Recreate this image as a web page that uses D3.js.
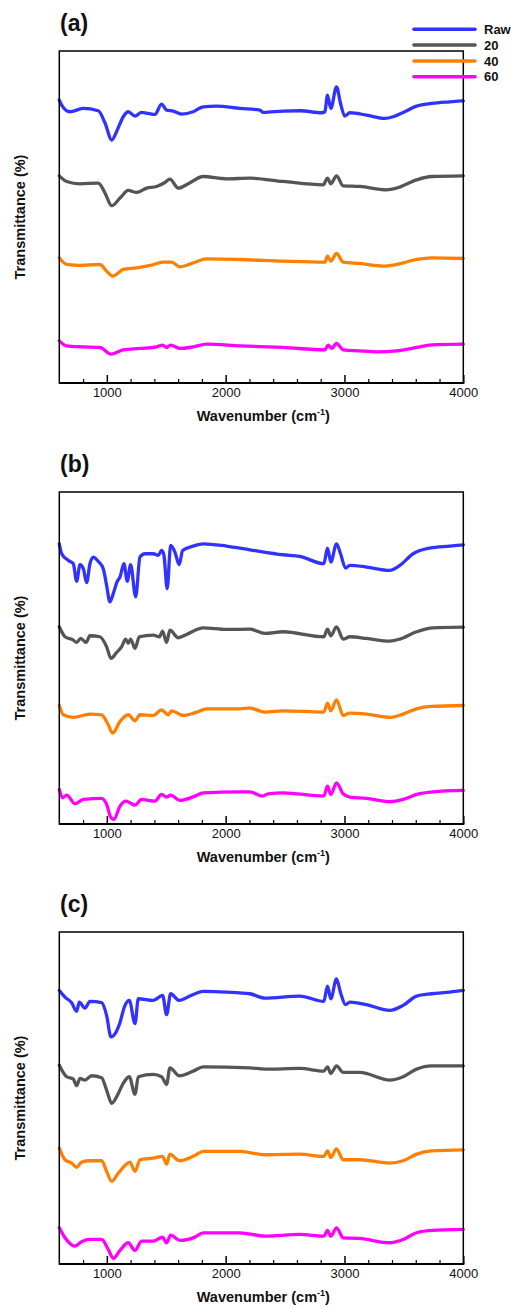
<!DOCTYPE html>
<html>
<head>
<meta charset="utf-8">
<script src="https://cdn.jsdelivr.net/npm/d3@7"></script>
<style>
  body { margin: 0; background: #fff; }
  svg { display: block; }
  text { font-family: "Liberation Sans", Arial, sans-serif; }
</style>
</head>
<body>
<svg id="chart" width="511" height="1308"></svg>
<script>
// ---- Data (wavenumber cm-1, relative transmittance, offset-stacked) ----
const seriesNames = ["Raw", "20", "40", "60"];
const seriesColors = ["#3232ff", "#555555", "#ff8000", "#ff00ff"];
const panelLabels = ["(a)", "(b)", "(c)"];
const xTicksMajor = [1000, 2000, 3000, 4000];

const a_raw = [[600,85.2],[620,83.7],[690,81.7],[800,82.7],[928,82.0],[985,78.3],[1041,73.2],[1088,76.2],[1138,80.2],[1180,81.7],[1237,80.4],[1293,81.5],[1349,81.2],[1405,80.9],[1461,84.0],[1503,82.2],[1559,81.9],[1629,81.0],[1727,81.7],[1811,83.2],[1924,83.4],[2120,82.7],[2288,82.2],[2316,81.5],[2484,81.9],[2625,82.0],[2807,81.4],[2835,81.7],[2857,86.7],[2885,82.7],[2933,89.2],[2967,84.2],[3003,80.4],[3045,81.4],[3185,80.7],[3340,79.7],[3410,80.2],[3494,81.5],[3607,83.4],[3733,84.2],[3887,84.7],[4000,85.0]];
const a_20 = [[600,62.4],[662,60.7],[774,60.0],[928,60.2],[985,57.2],[1041,53.4],[1111,55.7],[1180,58.0],[1251,57.4],[1335,58.7],[1419,59.2],[1489,60.4],[1531,61.4],[1601,58.7],[1685,60.0],[1811,62.2],[2007,61.5],[2204,61.7],[2484,60.7],[2821,59.7],[2857,61.7],[2885,60.0],[2933,62.4],[2989,59.4],[3129,59.2],[3354,58.2],[3438,58.7],[3607,61.2],[3733,62.2],[4000,62.4]];
const a_40 = [[600,37.7],[662,35.7],[774,35.4],[942,35.7],[998,33.7],[1049,32.2],[1138,34.2],[1251,34.7],[1363,35.4],[1475,36.4],[1545,36.4],[1615,35.0],[1727,36.2],[1840,37.4],[2120,37.2],[2484,36.7],[2835,36.4],[2857,38.2],[2885,36.7],[2933,39.0],[2989,36.4],[3129,36.0],[3326,35.2],[3438,35.7],[3607,37.2],[3733,37.7],[4000,37.5]];
const a_60 = [[600,12.7],[662,11.2],[802,10.9],[942,10.7],[1035,8.7],[1138,10.0],[1279,10.4],[1419,10.9],[1469,11.4],[1503,10.7],[1537,11.4],[1615,10.4],[1727,10.9],[1840,11.7],[2120,11.2],[2484,10.7],[2835,10.0],[2863,11.4],[2892,10.4],[2933,11.9],[2989,10.0],[3129,9.7],[3270,9.4],[3438,9.7],[3607,10.7],[3733,11.5],[4000,11.7]];

const b_raw = [[600,84.4],[620,81.4],[676,79.4],[718,78.4],[746,73.1],[774,78.1],[802,76.9],[830,72.7],[858,78.4],[886,80.4],[928,79.1],[970,76.9],[998,71.9],[1026,66.9],[1054,69.4],[1088,73.1],[1111,74.4],[1144,78.4],[1172,73.1],[1200,78.1],[1243,68.4],[1279,80.4],[1321,81.4],[1391,81.4],[1433,80.9],[1461,82.4],[1480,81.1],[1508,70.9],[1537,83.9],[1573,81.9],[1609,78.1],[1638,82.4],[1727,83.7],[1811,84.4],[2007,83.7],[2204,82.6],[2484,81.1],[2625,80.6],[2826,78.4],[2857,83.1],[2885,78.9],[2933,84.4],[2967,81.4],[3009,77.1],[3045,77.9],[3185,77.4],[3382,76.4],[3466,77.9],[3578,81.4],[3718,83.1],[3887,83.7],[4000,84.1]];
const b_20 = [[600,59.4],[648,56.4],[718,55.4],[746,54.7],[780,55.9],[825,54.7],[858,56.7],[942,56.4],[998,53.4],[1035,49.9],[1083,51.7],[1125,53.4],[1158,55.7],[1180,54.4],[1200,55.7],[1237,52.9],[1273,56.4],[1391,56.9],[1443,56.4],[1469,58.1],[1503,54.7],[1531,58.4],[1601,56.1],[1671,57.1],[1811,59.1],[2007,58.6],[2204,58.7],[2330,57.4],[2484,57.9],[2826,56.4],[2857,58.7],[2885,56.7],[2933,59.4],[2989,55.7],[3045,56.4],[3185,55.9],[3382,55.1],[3466,55.7],[3607,57.9],[3746,59.1],[4000,59.3]];
const b_40 = [[600,35.7],[634,32.9],[718,32.1],[858,33.1],[956,32.9],[1012,29.9],[1049,27.4],[1111,30.9],[1180,32.9],[1237,31.1],[1279,32.9],[1391,32.7],[1461,34.4],[1517,32.9],[1545,34.1],[1643,32.7],[1756,33.7],[1840,34.7],[2120,34.7],[2204,34.9],[2330,33.7],[2484,34.1],[2826,33.7],[2857,36.4],[2885,34.1],[2933,37.4],[2989,32.7],[3045,33.4],[3185,33.1],[3382,32.1],[3494,33.1],[3607,34.7],[3733,35.4],[4000,35.7]];
const b_60 = [[600,10.4],[628,7.9],[662,8.7],[732,6.1],[802,7.4],[956,7.7],[998,5.9],[1035,1.9],[1060,1.4],[1111,5.4],[1161,6.9],[1194,6.4],[1237,5.7],[1293,7.4],[1405,6.9],[1461,8.9],[1503,8.1],[1537,8.7],[1615,7.1],[1741,8.4],[1811,9.4],[2120,9.7],[2204,9.7],[2310,8.4],[2358,9.1],[2484,9.4],[2826,8.4],[2857,11.4],[2885,8.9],[2933,12.4],[2989,9.1],[3045,8.1],[3185,7.7],[3382,6.7],[3494,7.4],[3607,8.9],[3746,9.7],[4000,10.1]];

const c_raw = [[600,82.4],[648,80.4],[704,78.7],[746,76.1],[768,78.9],[816,77.1],[858,79.1],[956,78.7],[998,74.9],[1035,68.4],[1070,69.4],[1105,72.1],[1153,77.9],[1189,79.4],[1237,72.4],[1265,79.9],[1391,79.4],[1469,80.9],[1503,75.1],[1537,81.4],[1609,79.4],[1699,80.7],[1811,82.1],[2007,81.9],[2204,81.4],[2330,80.1],[2625,80.7],[2826,79.1],[2857,83.7],[2885,79.9],[2933,85.9],[2967,81.7],[3009,78.1],[3045,78.9],[3185,78.1],[3382,76.4],[3494,77.9],[3607,80.7],[3733,81.4],[3887,81.9],[4000,82.4]];
const c_20 = [[600,59.9],[662,56.4],[718,55.7],[746,53.7],[774,55.9],[816,55.4],[872,56.7],[956,56.1],[998,52.4],[1041,48.4],[1083,50.4],[1138,54.4],[1189,56.4],[1237,51.1],[1265,56.4],[1391,57.1],[1461,56.4],[1503,54.1],[1531,59.1],[1609,56.7],[1727,58.1],[1811,59.4],[2204,59.1],[2330,58.7],[2625,58.9],[2826,58.1],[2857,59.4],[2885,57.4],[2933,59.7],[2989,57.7],[3129,57.7],[3382,55.4],[3494,56.4],[3607,58.7],[3733,59.7],[4000,59.7]];
const c_40 = [[600,34.9],[648,31.4],[704,30.4],[746,29.1],[788,30.7],[858,31.1],[956,31.1],[998,27.9],[1041,24.9],[1097,27.4],[1153,29.7],[1194,30.7],[1237,27.9],[1279,31.4],[1391,31.9],[1469,32.4],[1503,30.1],[1531,33.1],[1609,31.1],[1741,32.7],[1811,33.9],[2120,33.9],[2330,32.9],[2625,33.1],[2826,32.4],[2857,34.1],[2885,32.1],[2933,34.7],[2989,31.4],[3129,31.4],[3382,30.4],[3494,31.1],[3607,33.1],[3733,34.1],[4000,34.4]];
const c_60 = [[600,10.9],[648,7.9],[732,5.4],[788,6.7],[858,7.4],[956,7.4],[1012,4.4],[1054,1.7],[1111,4.1],[1180,6.4],[1237,4.1],[1293,6.9],[1391,6.9],[1469,8.1],[1503,6.4],[1537,8.7],[1615,7.1],[1741,8.1],[1811,9.4],[2120,9.4],[2330,8.4],[2625,8.9],[2826,8.4],[2857,10.1],[2885,8.4],[2933,10.9],[2989,7.9],[3129,7.7],[3382,6.4],[3494,7.4],[3607,9.4],[3733,10.1],[4000,10.4]];

const panelsData = [
  [a_raw, a_20, a_40, a_60],
  [b_raw, b_20, b_40, b_60],
  [c_raw, c_20, c_40, c_60]
];

// ---- Layout ----
const svg = d3.select("#chart");
const left = 59.3, right = 463.3, panelH = 332;
const panelTops = [51, 492, 932];

const x = d3.scaleLinear().domain([600, 4000]).range([left, right]);

panelsData.forEach((curves, pi) => {
  const top = panelTops[pi], bottom = top + panelH;
  const y = d3.scaleLinear().domain([0, 100]).range([bottom, top]);
  const g = svg.append("g");

  // curves
  const line = d3.line().x(d => x(d[0])).y(d => y(d[1])).curve(d3.curveMonotoneX);
  curves.forEach((c, si) => {
    g.append("path").datum(c)
      .attr("d", line)
      .attr("fill", "none")
      .attr("stroke", seriesColors[si])
      .attr("stroke-width", 3.3)
      .attr("stroke-linejoin", "round")
      .attr("stroke-linecap", "round");
  });

  // frame
  g.append("rect").attr("x", left).attr("y", top)
    .attr("width", right - left).attr("height", panelH)
    .attr("fill", "none").attr("stroke", "#000").attr("stroke-width", 1.5);
  g.append("line").attr("x1", left).attr("x2", right + 1)
    .attr("y1", bottom).attr("y2", bottom)
    .attr("stroke", "#000").attr("stroke-width", 2.2);

  // minor ticks (inward)
  const minor = d3.range(800, 4000, 200).filter(v => v % 1000 !== 0);
  const xMinor = d3.axisBottom(x).tickValues(minor).tickSize(-4).tickFormat("");
  const gm = g.append("g").attr("transform", `translate(0,${bottom})`).call(xMinor);
  gm.select(".domain").remove();
  gm.selectAll("line").attr("stroke", "#000").attr("stroke-width", 1.2);

  // major ticks + labels
  const xMajor = d3.axisBottom(x).tickValues(xTicksMajor).tickSize(-8).tickFormat(d3.format("d"));
  const ga = g.append("g").attr("transform", `translate(0,${bottom})`).call(xMajor);
  ga.select(".domain").remove();
  ga.selectAll("line").attr("stroke", "#000").attr("stroke-width", 1.5);
  ga.selectAll("text").attr("font-size", 13).attr("fill", "#111")
    .attr("font-family", "Liberation Sans, Arial, sans-serif")
    .attr("dy", "0.32em").attr("y", 10);

  // x title
  const xt = g.append("text")
    .attr("x", (left + right) / 2 + 2).attr("y", bottom + 38)
    .attr("text-anchor", "middle").attr("font-weight", "bold").attr("font-size", 14.5).attr("fill", "#111");
  xt.append("tspan").text("Wavenumber (cm");
  xt.append("tspan").text("-1").attr("font-size", 9).attr("dy", -6);
  xt.append("tspan").text(")").attr("dy", 6);

  // y title
  g.append("text")
    .attr("transform", `translate(25,${top + panelH / 2}) rotate(-90)`)
    .attr("text-anchor", "middle").attr("font-weight", "bold").attr("font-size", 14.5).attr("fill", "#111")
    .text("Transmittance (%)");

  // panel label
  g.append("text").attr("x", 60).attr("y", top - 20)
    .attr("font-weight", "bold").attr("font-size", 23).attr("fill", "#111")
    .text(panelLabels[pi]);
});

// ---- Legend ----
const legY = [29.3, 45, 61, 76.7];
const leg = svg.append("g");
seriesNames.forEach((n, i) => {
  leg.append("line").attr("x1", 414).attr("x2", 475).attr("y1", legY[i]).attr("y2", legY[i])
    .attr("stroke", seriesColors[i]).attr("stroke-width", 3.6).attr("stroke-linecap", "round");
  leg.append("text").attr("x", 484).attr("y", legY[i]).attr("dy", "0.35em")
    .attr("font-weight", "bold").attr("font-size", 13).attr("fill", "#111").text(n);
});
</script>
</body>
</html>
